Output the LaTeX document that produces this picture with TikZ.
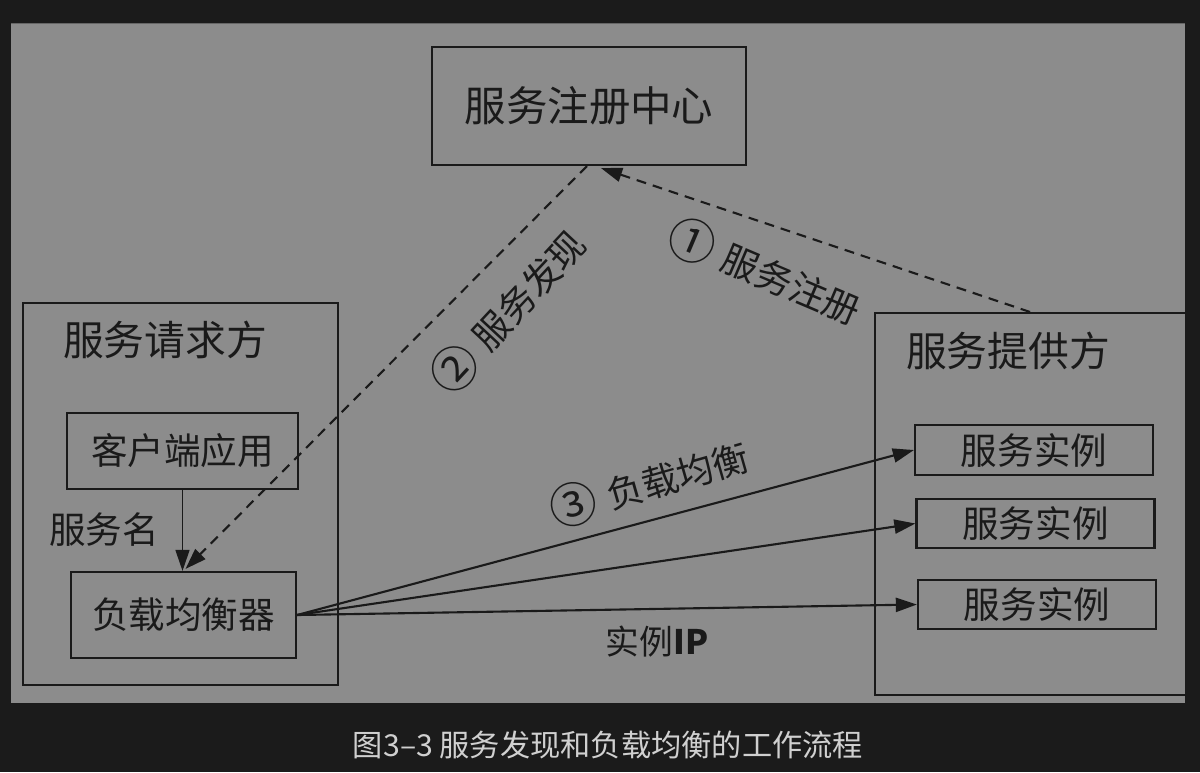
\documentclass[tikz,border=0pt]{standalone}
\usepackage{fontspec}
\usepackage{graphicx}
\setmainfont{Noto Sans CJK SC}
\usetikzlibrary{positioning,arrows.meta,calc}
\definecolor{pagebg}{HTML}{1B1B1B}
\definecolor{panelgray}{HTML}{8C8C8C}
\definecolor{ink}{HTML}{1A1A1A}
\definecolor{captext}{HTML}{D0D0D0}
\newcommand{\stepno}[1]{\raisebox{-0.08em}{\scalebox{1.3}{#1}}\hspace{0.3em}}
\tikzset{
box/.style={
draw=ink,
line width=1.5pt,
inner sep=0pt,
align=center,
text=ink,
font=\fontsize{26}{30}\selectfont
},
group/.style={
draw=ink,
line width=1.4pt,
minimum width=7.875cm,
minimum height=9.55cm,
inner sep=0pt
},
title/.style={
text=ink,
inner sep=0pt,
font=\fontsize{29}{34}\selectfont
},
lbl/.style={
text=ink,
inner sep=0pt,
font=\fontsize{26}{30}\selectfont
},
arrow/.style={
-{Triangle[length=15pt,width=10pt]},
draw=ink,
line width=1.5pt
},
dasharrow/.style={
arrow,
dash pattern=on 7pt off 5pt
}
}

\begin{document}
\begin{tikzpicture}[x=0.025cm,y=-0.025cm]
\useasboundingbox (0,0) rectangle (1200,772);
\fill[pagebg] (0,0) rectangle (1200,772);
\fill[panelgray] (11,23) rectangle (1185,703);
\draw[black!60,line width=0.6pt] (11,23) -- (1185,23);

% registry
\node[box,minimum width=7.85cm,minimum height=2.95cm,font=\fontsize{29.5}{34}\selectfont] (reg) at (589,106) {服务注册中心};

% requester side
\node[group] (req) at (180.5,494) {};
\node[title] (reqtitle) at (165,340) {服务请求方};
\node[box,minimum width=5.775cm,minimum height=1.9cm] (client) at (182.5,451) {客户端应用};
\node[box,minimum width=5.625cm,minimum height=2.15cm] (lb) at (183.5,615) {负载均衡器};
\node[lbl] (svcname) at (104,530) {服务名};

% provider side
\begin{scope}
\clip (11,23) rectangle (1185,703);
\node[group,minimum width=8.5cm] (prov) at (1045,504) {};
\end{scope}
\node[title] (provtitle) at (1008,351) {服务提供方};
\node[box,minimum width=5.95cm,minimum height=1.25cm] (inst1) at (1034,450) {服务实例};
\node[box,minimum width=5.95cm,minimum height=1.23cm] (inst2) at (1035.5,523.5) {服务实例};
\node[box,minimum width=5.95cm,minimum height=1.23cm] (inst3) at (1037,604.5) {服务实例};

% connectors
\draw[arrow,line width=0.9pt] (client.south) -- (client.south |- lb.north);
\draw[dasharrow] ($(prov.north)+(-15,0)$) -- ($(reg.south)+(12,2)$);
\draw[dasharrow] ($(reg.south)+(-2,0)$) -- ($(lb.north)+(2,-2)$);
\foreach \t in {inst1,inst2,inst3}
\draw[arrow] (lb.east) -- (\t.west);

% labels
\node[lbl,rotate=-23] (regstep) at (765,272) {\stepno{①}服务注册};
\node[lbl,rotate=47] (findstep) at (508,311) {\stepno{②}服务发现};
\node[lbl,rotate=16] (lbstep) at (649,483) {\stepno{③}负载均衡};
\node[lbl,font=\fontsize{24}{28}\selectfont] (iplabel) at (657,642) {实例\textbf{IP}};

% caption
\node[text=captext,inner sep=0pt,font=\fontsize{21.5}{24}\selectfont] (caption) at (608,745) {图3–3 服务发现和负载均衡的工作流程};
\end{tikzpicture}
\end{document}
